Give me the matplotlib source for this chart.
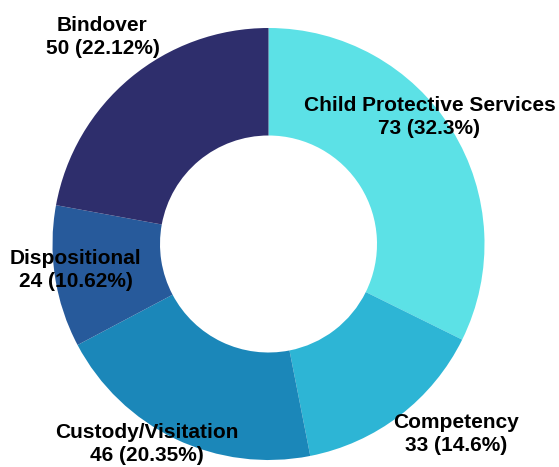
import matplotlib.pyplot as plt

# case counts by type
categories = ['Child Protective Services', 'Competency', 'Custody/Visitation',
              'Dispositional', 'Bindover']
counts = [73, 33, 46, 24, 50]
colors = ['#5ce1e6', '#2db5d5', '#1b87b9', '#275a9b', '#2e2e6c']

# label anchor points (pixels from the ring centre, y up)
label_pos = [(161, 127), (188, -190), (-122, -200), (-193, -26), (-166, 207)]

plt.rcParams['font.family'] = ['Liberation Sans', 'DejaVu Sans']

fig = plt.figure(figsize=(5.59, 4.67), dpi=100)
ax = fig.add_axes([0, 0, 1, 1])

cx, cy = 268.5, 244
ax.pie(counts, colors=colors, radius=216, center=(0, 0), startangle=90,
       counterclock=False, wedgeprops=dict(width=107.5, linewidth=0))
ax.set_xlim(-cx, 559 - cx)
ax.set_ylim(-(467 - cy), cy)
ax.set_aspect('equal')
ax.axis('off')

total = sum(counts)
for name, n, (x, y) in zip(categories, counts, label_pos):
    pct = round(n / total * 100, 2)
    txt = f'{name}\n{n} ({pct:g}%)'
    ax.text(x, y, txt, ha='center', va='center', fontsize=15,
            fontweight='bold', linespacing=1.33, color='black')

fig.savefig('out.png', dpi=100)
